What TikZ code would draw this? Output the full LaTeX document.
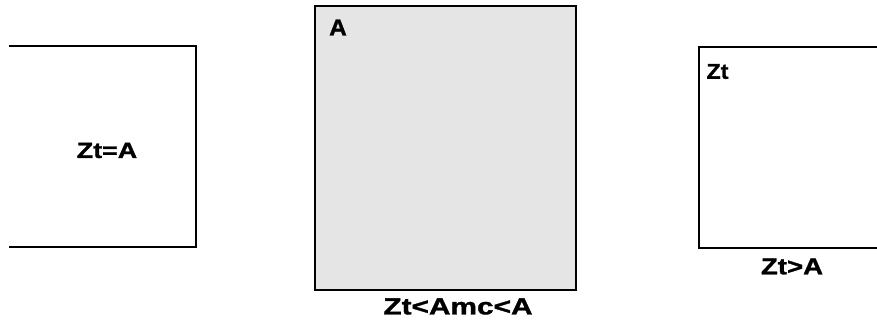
\documentclass[tikz,border=0pt]{standalone}
\usepackage{fontspec}
\setmainfont{Liberation Sans}[BoldFeatures={FakeBold=1.2}]
\usepackage{graphicx}
\usepackage{tikz}

% wide bold lettering, as in the original drawing
\newcommand{\widetext}[3]{\fontsize{#1}{#1}\selectfont\bfseries\scalebox{#2}[1]{#3}}

\begin{document}
\begin{tikzpicture}[x=1pt, y=-1pt,
    wall/.style={line width=1.6pt},
    tag/.style={inner sep=0pt}]

\useasboundingbox (0,0) rectangle (877,320);

% -----------------------------
% Left case (open on the left)
% -----------------------------
\draw[wall] (9,46) -- (196,46) -- (196,247) -- (9,247);
\node[tag] (eq) at (107,150.5) {\widetext{22}{1.22}{Zt=A}};

% -----------------------------
% Middle case (filled box)
% -----------------------------
\draw[wall, fill=black!10] (315,6) rectangle (576,290);
\node[tag] (amid) at (338,27.5) {\widetext{23}{1.06}{A}};
\node[tag] (lt) at (458,306.5) {\widetext{23.3}{1.28}{Zt<Amc<A}};

% -----------------------------
% Right case (open on the right)
% -----------------------------
\draw[wall] (877,47) -- (699,47) -- (699,248) -- (877,248);
\node[tag] (zt) at (717.5,71.5) {\widetext{21.5}{1.08}{Zt}};
\node[tag] (gt) at (792,266.5) {\widetext{23}{1.2}{Zt>A}};

\end{tikzpicture}
\end{document}
